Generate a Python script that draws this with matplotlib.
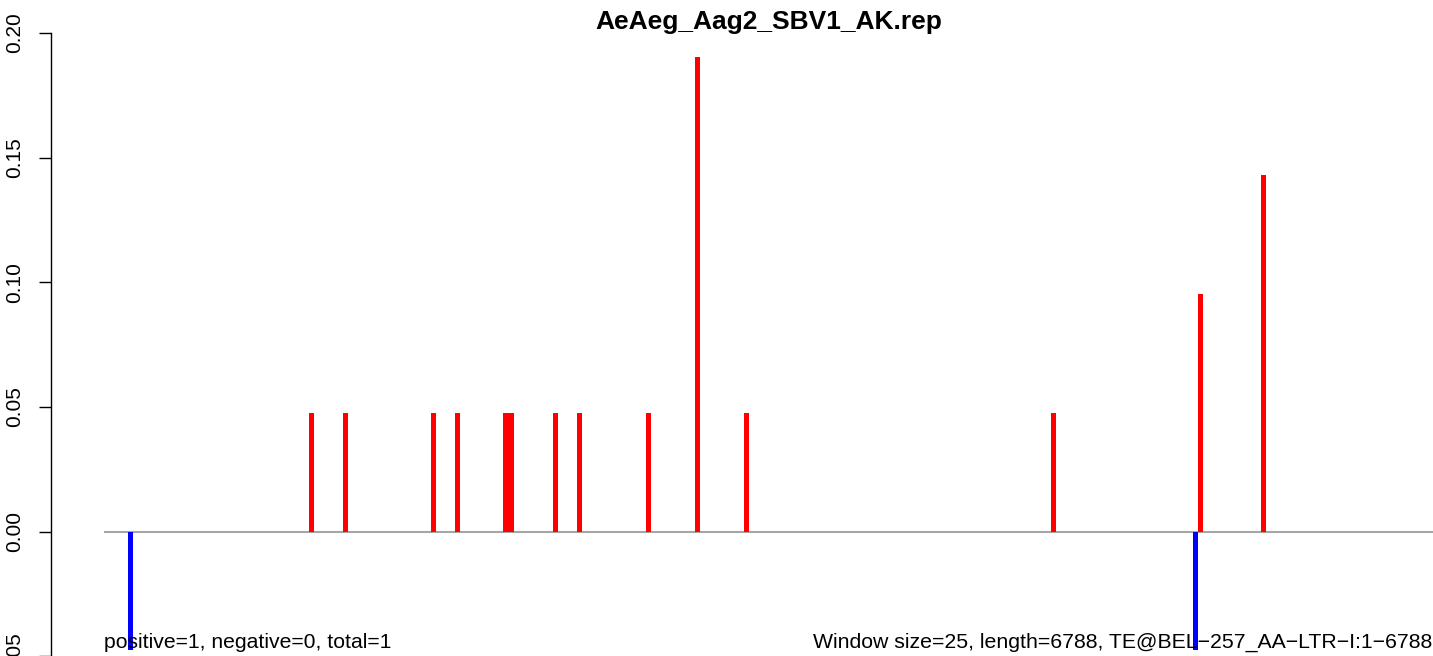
import matplotlib
matplotlib.use("Agg")
import matplotlib.pyplot as plt

plt.rcParams["font.family"] = ["Liberation Sans", "DejaVu Sans"]

# window start positions (bp) and signal values
pos_x = [1059, 1232, 1682, 1805, 2054, 2079, 2305, 2428, 2781, 3031, 3282,
         4850, 5601, 5921]
pos_y = [0.0476, 0.0476, 0.0476, 0.0476, 0.0476, 0.0476, 0.0476, 0.0476,
         0.0476, 0.1905, 0.0476, 0.0476, 0.0952, 0.1429]
neg_x = [134, 5575]
neg_y = [-0.0476, -0.0476]

LENGTH = 6788
WINDOW = 25
yticks = [-0.05, 0.00, 0.05, 0.10, 0.15, 0.20]

title = "AeAeg_Aag2_SBV1_AK.rep"
left_note = "positive=1, negative=0, total=1"
right_note = "Window size=25, length=6788, TE@BEL\u2212257_AA\u2212LTR\u2212I:1\u22126788"

W, H = 1433, 656
fig = plt.figure(figsize=(W / 100, H / 100), dpi=100)
ax = fig.add_axes([104 / W, (H - 656.4) / H, 1329 / W, (656.4 - 32.9) / H])

ax.axhline(0, color="#a6a6a6", lw=1.5, zorder=1)
# bars a touch wider than the window so they render ~5px like the original
ax.bar(pos_x, pos_y, width=WINDOW * 1.1, color="red", linewidth=0, zorder=2)
ax.bar(neg_x, neg_y, width=WINDOW * 1.1, color="blue", linewidth=0, zorder=2)

ax.set_xlim(0, LENGTH)
ax.set_ylim(-0.05, 0.20)

for s in ("top", "right", "bottom"):
    ax.spines[s].set_visible(False)
ax.spines["left"].set_position(("outward", 38.4))
ax.spines["left"].set_bounds(-0.05, 0.20)
ax.spines["left"].set_linewidth(1.0)
ax.set_xticks([])
ax.set_yticks(yticks)
ax.set_yticklabels([f"{v:.2f}" for v in yticks], rotation=90, va="center",
                   fontsize=15)
ax.tick_params(axis="y", length=9, width=1.0, pad=10)

fig.text(768.5 / W, 1 - 29 / H, title, ha="center", va="baseline",
         fontsize=19, fontweight="bold")
fig.text(104 / W, 1 - 648 / H, left_note, ha="left", va="baseline",
         fontsize=15.2)
fig.text(1432 / W, 1 - 648 / H, right_note, ha="right", va="baseline",
         fontsize=15.3)

fig.savefig("out.png", dpi=100, facecolor="white")
